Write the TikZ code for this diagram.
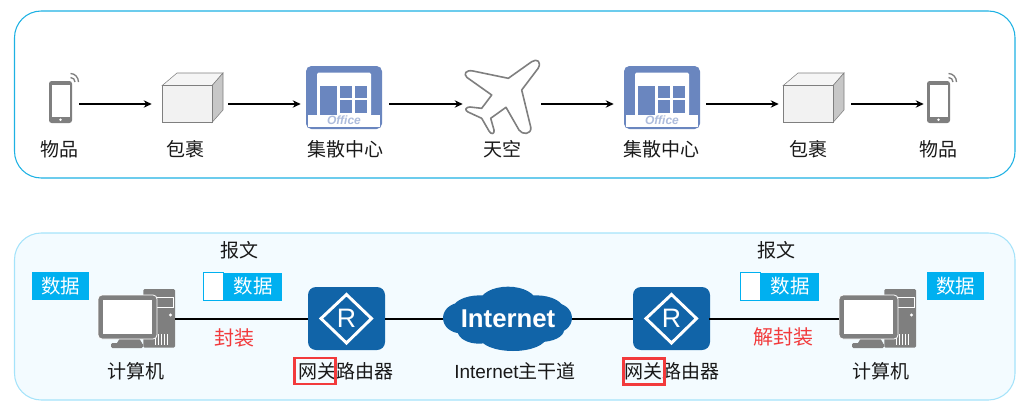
\documentclass[tikz,border=0pt]{standalone}
\usepackage{fontspec}
\setmainfont{Noto Sans CJK SC}
\newfontfamily\latinsans{Liberation Sans}
\usetikzlibrary{positioning,arrows.meta}
\definecolor{boxline}{HTML}{1DB1E3}
\definecolor{paleline}{HTML}{A5E3FA}
\definecolor{palefill}{HTML}{F3FBFF}
\definecolor{tagblue}{HTML}{00B0F0}
\definecolor{iconblue}{HTML}{1164A8}
\definecolor{officeblue}{HTML}{6A86BF}
\definecolor{icongray}{HTML}{7F7F7F}
\definecolor{wrapred}{HTML}{F23A3C}
\tikzset{
  x=0.75pt,y=-0.75pt,
  txt/.style={font=\fontsize{14.25}{17}\selectfont,text=black!90,inner sep=0pt},
  redtxt/.style={txt,font=\fontsize{15}{17}\selectfont,text=wrapred},
  hold/.style={inner sep=0pt,minimum height=20pt},
  tag/.style={fill=tagblue,text=white,font=\fontsize{14.6}{17}\selectfont,inner sep=0pt,
    minimum height=21pt,minimum width=43pt},
  head/.style={draw=tagblue,fill=white,line width=0.8pt,inner sep=0pt,minimum height=20.8pt,minimum width=15.2pt},
  redbox/.style={draw=wrapred,line width=2.2pt,inner sep=0pt,minimum width=31pt,minimum height=19.5pt},
  flow/.style={-{Stealth[length=6pt,width=5.5pt]},line width=1.2pt},
  wire/.style={-,line width=1.2pt},
  phone/.pic={
    \fill[icongray,rounded corners=2pt] (49,81) rectangle (72,123);
    \fill[white] (51.7,85) rectangle (70,116.7);
    \fill[white] (60.5,119.7) circle (1pt);
    \draw[icongray,line width=1pt] (70.5,77.5) .. controls (73,77.5) and (75,79.5) .. (75,82);
    \draw[icongray,line width=1pt] (70.5,73.5) .. controls (75,73.5) and (78.5,77.5) .. (78.5,82);
  },
  parcel/.pic={
    \draw[icongray,fill=black!4] (162,85.7) -- (177,73) -- (223,73) -- (212,85.7) -- cycle;
    \draw[icongray,fill=black!22] (212,85.7) -- (223,73) -- (223,110) -- (212,122.5) -- cycle;
    \draw[icongray,fill=black!5] (162,85.7) rectangle (212,122.5);
  },
  office/.pic={
    \fill[officeblue,rounded corners=4pt] (306,66) rectangle (382,129);
    \fill[white,rounded corners=1pt] (317,72.7) rectangle (371,116);
    \fill[white] (308,115) rectangle (380,127);
    \fill[officeblue] (320,85.7) rectangle (337,115);
    \fill[officeblue] (340,85.7) rectangle (352,98);
    \fill[officeblue] (354.5,85.7) rectangle (366.7,98);
    \fill[officeblue] (340,100) rectangle (352,113);
    \fill[officeblue] (354.5,100) rectangle (366.7,113);
    \node[inner sep=0pt,text=officeblue!55,font=\latinsans\fontsize{9}{10}\selectfont\bfseries\itshape] at (344,120.7) {Office};
  },
  computer/.pic={
    \fill[icongray,rounded corners=1pt] (143.3,289) rectangle (175,347.7);
    \draw[white,line width=0.6pt] (156.7,297.7) rectangle (173,307);
    \fill[white] (170.5,315) circle (1.3pt);
    \foreach \ventx in {155,158,161,164,167}
      \draw[white,line width=0.5pt] (\ventx,334) -- (\ventx,345);
    \fill[icongray] (120,338) -- (139,338) -- (142,343) -- (117,343) -- cycle;
    \fill[icongray,rounded corners=1pt] (111,343) rectangle (143,348);
    \draw[white,fill=icongray,line width=0.6pt,rounded corners=3pt] (98,295) rectangle (157,339);
    \fill[white] (103,300) rectangle (151.7,334);
  },
  router/.pic={
    \fill[iconblue,rounded corners=6pt] (308,287) rectangle (385,350);
    \draw[white,line width=2.2pt] (346.5,294.5) -- (371.5,318.5) -- (346.5,343) -- (321,318.5) -- cycle;
    \node[inner sep=0pt,text=white,font=\latinsans\fontsize{20}{22}\selectfont] at (346.5,318.5) {R};
  },
}
\begin{document}
\begin{tikzpicture}
  \useasboundingbox (0,0) rectangle (1028,407);
  \draw[boxline,line width=0.8pt,rounded corners=20pt] (14.5,11) rectangle (1015,178);
  \draw[paleline,fill=palefill,line width=0.8pt,rounded corners=20pt] (14.5,233) rectangle (1015,400);

  % top row
  \pic at (0,0) {phone};
  \pic at (0,0) {parcel};
  \pic at (0,0) {office};
  \pic at (318,0) {office};
  \pic at (621,0) {parcel};
  \pic at (878,0) {phone};
  \draw[icongray,fill=white,line width=1.2pt,line join=round]
    (531.7,61.7) -- (508.3,78.3) -- (473,71) .. controls (466,69.5) and (463,74) .. (467,77.5)
    -- (491.7,95) -- (481.7,108.3) -- (470,107) .. controls (466,107) and (464,110) .. (468,112)
    -- (481.7,118.3) -- (489,131) .. controls (491,135) and (495,134) .. (494,130)
    -- (490.7,118.3) -- (506,107.3) -- (519,130) .. controls (522,135) and (532,135) .. (530.7,127)
    -- (521.7,90) -- (538,68.5) .. controls (542,62) and (537,58) .. (531.7,61.7) -- cycle;

  \node[hold,minimum width=28.5pt] (phonel) at (60,104) {};
  \node[hold,minimum width=57pt] (parcell) at (190,104) {};
  \node[hold,minimum width=66pt] (officel) at (345,104) {};
  \node[hold,minimum width=58.5pt] (plane) at (502,104) {};
  \node[hold,minimum width=69pt] (officer) at (660,104) {};
  \node[hold,minimum width=54pt] (parcelr) at (815,104) {};
  \node[hold,minimum width=21pt] (phoner) at (938,104) {};
  \path
    (phonel) edge [flow] (parcell)
    (parcell) edge [flow] (officel)
    (officel) edge [flow] (plane)
    (plane) edge [flow] (officer)
    (officer) edge [flow] (parcelr)
    (parcelr) edge [flow] (phoner);

  \node[txt] (goodsl) at (59,149) {物品};
  \node[txt] (wrapl) at (185.5,149) {包裹};
  \node[txt] (hubl) at (345.5,149) {集散中心};
  \node[txt] (sky) at (502,149) {天空};
  \node[txt] (hubr) at (661,149) {集散中心};
  \node[txt] (wrapr) at (808,149) {包裹};
  \node[txt] (goodsr) at (938,149) {物品};

  % bottom row
  \pic at (0,0) {computer};
  \pic at (0,0) {router};
  \pic at (325,0) {router};
  \pic at (741,0) {computer};
  \fill[iconblue]
    (507.5,318) ellipse [x radius=40pt,y radius=13pt]
    (461,318) ellipse [x radius=13.5pt,y radius=11.5pt]
    (554,318) ellipse [x radius=13.5pt,y radius=11.5pt]
    (508,302) ellipse [x radius=21pt,y radius=11.5pt]
    (480,310) ellipse [x radius=21pt,y radius=11pt]
    (536,310) ellipse [x radius=21pt,y radius=11pt]
    (479,331) ellipse [x radius=16pt,y radius=9.5pt]
    (513,337) ellipse [x radius=25pt,y radius=10.5pt]
    (540,330) ellipse [x radius=18pt,y radius=9pt];
  \node[inner sep=0pt,text=white,font=\latinsans\bfseries\fontsize{19.3}{21}\selectfont] at (508,319) {Internet};

  \node[hold,minimum width=57.75pt] (pcl) at (136.5,319) {};
  \node[hold,minimum width=57.75pt] (routerl) at (346.5,319) {};
  \node[hold,minimum width=96.75pt] (cloud) at (507.5,319) {};
  \node[hold,minimum width=57pt] (routerr) at (671,319) {};
  \node[hold,minimum width=57.75pt] (pcr) at (877.5,319) {};
  \path
    (pcl) edge [wire] (routerl)
    (routerl) edge [wire] (cloud)
    (cloud) edge [wire] (routerr)
    (routerr) edge [wire] (pcr);

  \node[tag] (datal) at (60.5,286) {数据};
  \node[tag] (packetl) at (253,286.5) {数据};
  \node[head,left=0pt of packetl] (headl) {};
  \node[tag] (packetr) at (790,286.5) {数据};
  \node[head,left=0pt of packetr] (headr) {};
  \node[tag] (datar) at (955.5,286) {数据};

  \node[txt] (msgl) at (239,250) {报文};
  \node[txt] (msgr) at (776,250) {报文};
  \node[redtxt] (pack) at (234,338) {封装};
  \node[redtxt] (unpack) at (783,337) {解封装};
  \node[txt] (pcnamel) at (136,371) {计算机};
  \node[txt] (gwl) at (345.5,371) {网关路由器};
  \node[txt] (trunk) at (515,371) {{\latinsans Internet}主干道};
  \node[txt] (gwr) at (672,371) {网关路由器};
  \node[txt] (pcnamer) at (881,371) {计算机};
  \node[redbox,anchor=west] (markl) at ([xshift=-3.5pt]gwl.west) {};
  \node[redbox,anchor=west] (markr) at ([xshift=-2pt,yshift=-0.5pt]gwr.west) {};
\end{tikzpicture}
\end{document}
